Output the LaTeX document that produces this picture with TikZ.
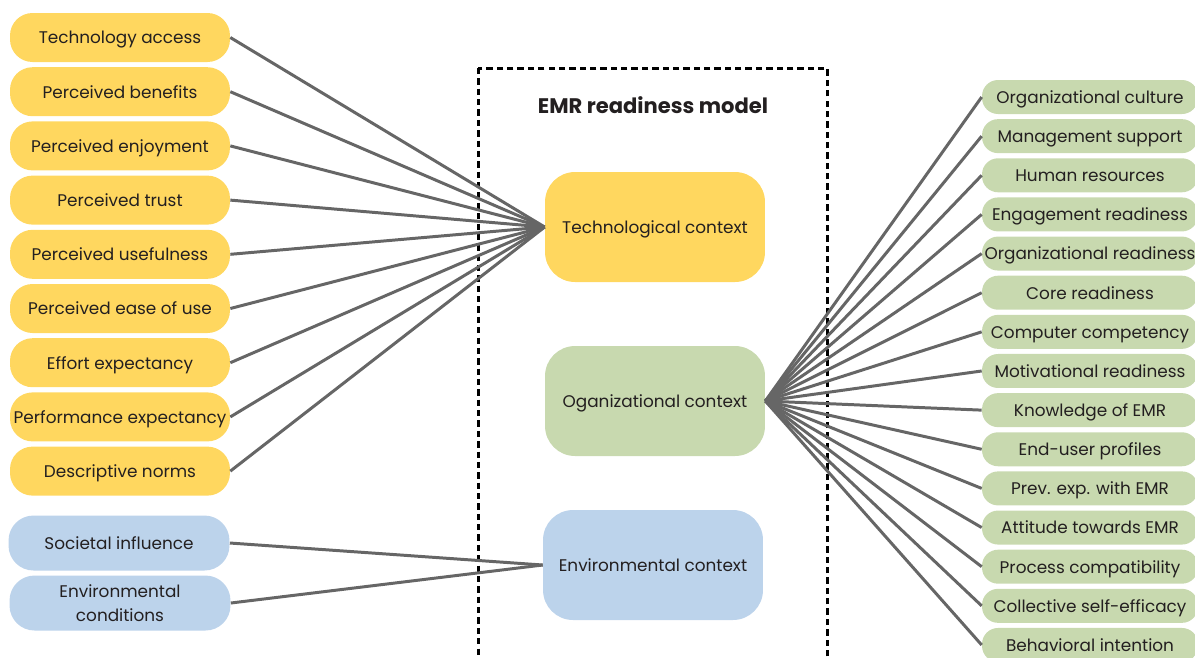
\documentclass[tikz,border=0pt]{standalone}
\usepackage{fontspec}
\setmainfont{Poppins}
\definecolor{cyel}{HTML}{FFD75F}
\definecolor{cgrn}{HTML}{C8D9AF}
\definecolor{cblu}{HTML}{BCD3EB}
\definecolor{cline}{HTML}{666666}
\definecolor{ctxt}{HTML}{231F20}
\begin{document}
\begin{tikzpicture}[x=0.02cm,y=-0.02cm,
  every node/.style={text=ctxt,font=\fontsize{9.6}{13.6}\selectfont},
  one/.style={text height=8.8pt,text depth=1.6pt},
  lbox/.style={one,rectangle,rounded corners=0.45cm,fill=cyel,minimum width=4.4cm,minimum height=0.98cm,inner sep=0pt,align=center},
  bbox/.style={rectangle,rounded corners=0.5cm,fill=cblu,minimum width=4.42cm,minimum height=1.1cm,inner sep=0pt,align=center},
  rbox/.style={one,rectangle,rounded corners=0.32cm,fill=cgrn,minimum width=4.32cm,minimum height=0.68cm,inner sep=0pt,align=center},
  cbox/.style={one,rectangle,rounded corners=0.6cm,minimum width=4.4cm,minimum height=2.2cm,inner sep=0pt,align=center},
  link/.style={draw=cline,line width=1.7pt}]
\useasboundingbox (0,0) rectangle (1195,657);
\clip (0,0) rectangle (1195,657);
% frame
\draw[line width=1.7pt,dash pattern=on 3.6pt off 2.3pt] (478,68) rectangle (827,680);
\node[font=\fontsize{12}{14}\selectfont\bfseries] (title) at (653,105) {EMR readiness model};
% center boxes
\node[cbox,fill=cyel] (tech) at (655,227) {Technological context};
\node[cbox,fill=cgrn] (org) at (655,401) {Oganizational context};
\node[cbox,fill=cblu] (env) at (653,565) {Environmental context};
% left yellow
\foreach \t [count=\i from 0] in {Technology access,Perceived benefits,Perceived enjoyment,Perceived trust,Perceived usefulness,Perceived ease of use,Effort expectancy,Performance expectancy,Descriptive norms}{
  \node[lbox] (l\i) at (120,{37.5+54.2*\i}) {\t};
  \draw[link] (l\i.east) -- (tech.west);
}
% left blue
\node[bbox,one] (s1) at (119,543) {Societal influence};
\node[bbox] (s2) at (120,603) {Environmental\\conditions};
\draw[link] (s1.east) -- (env.west);
\draw[link] (s2.east) -- (env.west);
% right green
\foreach \t [count=\i from 0] in {Organizational culture,Management support,Human resources,Engagement readiness,Organizational readiness,Core readiness,Computer competency,Motivational readiness,Knowledge of EMR,End-user profiles,Prev. exp. with EMR,Attitude towards EMR,Process compatibility,Collective self-efficacy,Behavioral intention}{
  \node[rbox] (r\i) at (1090,{97+39.14*\i}) {\t};
  \draw[link] (org.east) -- (r\i.west);
}
\end{tikzpicture}
\end{document}
